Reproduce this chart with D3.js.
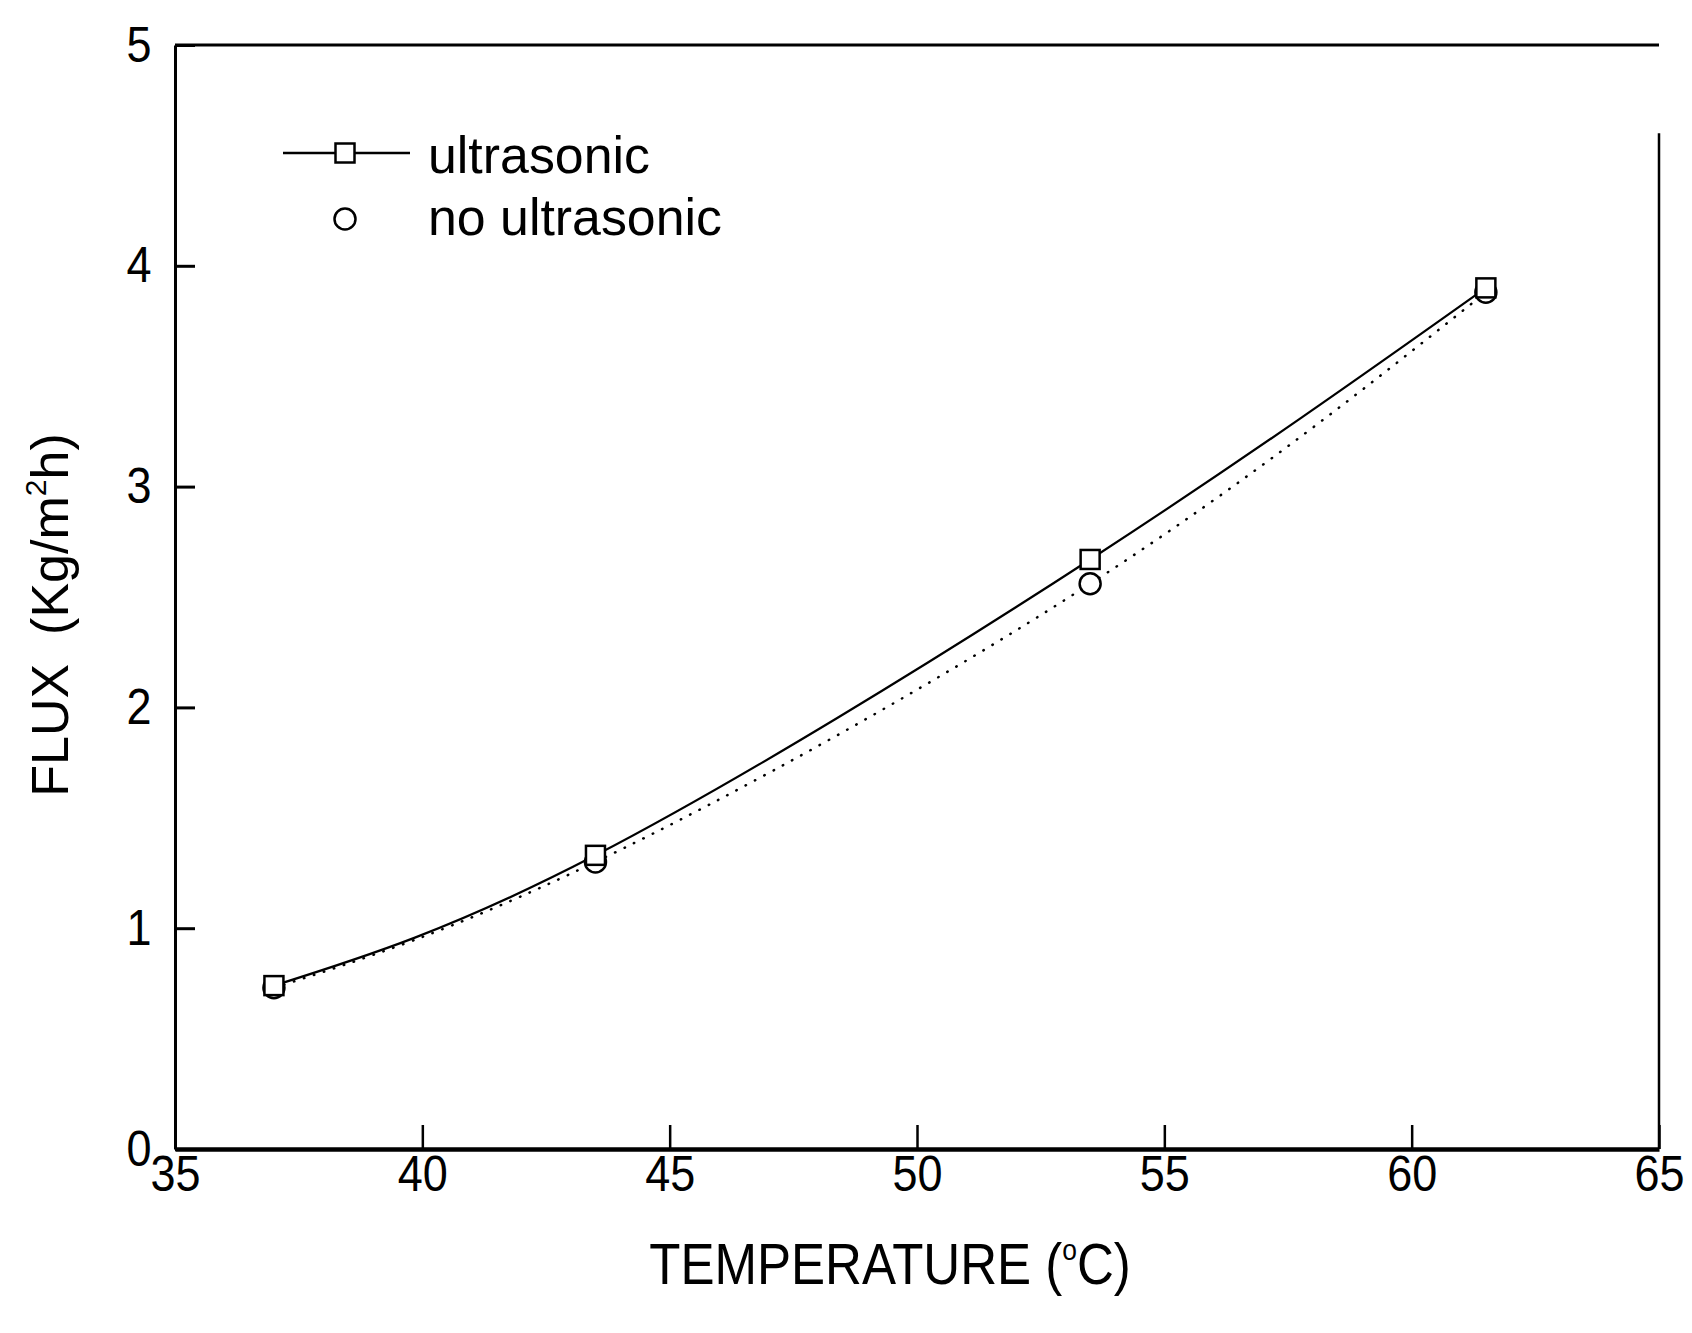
<!DOCTYPE html>
<html>
<head>
<meta charset="utf-8">
<script src="https://cdn.jsdelivr.net/npm/d3@7"></script>
<style>
  body { margin: 0; background: #fff; }
  svg { display: block; font-family: "Liberation Sans", Arial, sans-serif; }
</style>
</head>
<body>
<svg width="1692" height="1333"></svg>
<script>
// values
const temps = [37, 43.5, 53.5, 61.5];
const ultrasonic = [0.74, 1.33, 2.67, 3.90];
const noUltrasonic = [0.73, 1.30, 2.56, 3.88];
const xTicks = [35, 40, 45, 50, 55, 60, 65];
const yTicks = [0, 1, 2, 3, 4, 5];

const svg = d3.select('svg');

// plot box
const plotL = 175, plotR = 1659, plotT = 45, plotB = 1149;

const x = d3.scaleLinear().domain([35, 65]).range([plotL, plotR]);
const y = d3.scaleLinear().domain([0, 5]).range([plotB, plotT]);

// x axis, ticks pointing in
const xAxis = svg.append('g')
    .attr('transform', `translate(0,${plotB})`)
    .call(d3.axisBottom(x).tickValues(xTicks).tickFormat(d3.format('d'))
        .tickSizeInner(-24).tickSizeOuter(0).tickPadding(6));
xAxis.select('.domain').attr('stroke-width', 4.5);
xAxis.selectAll('.tick line').attr('stroke-width', 2.5);
xAxis.selectAll('text').attr('font-size', 50).attr('fill', '#000')
    .attr('font-family', '"Liberation Sans", Arial, sans-serif')
    .attr('transform', 'scale(0.9,1)');

// y axis
const yAxis = svg.append('g')
    .attr('transform', `translate(${plotL},0)`)
    .call(d3.axisLeft(y).tickValues(yTicks).tickFormat(d3.format('d'))
        .tickSizeInner(-20).tickSizeOuter(0).tickPadding(26));
yAxis.select('.domain').attr('stroke-width', 3);
yAxis.selectAll('.tick line').attr('stroke-width', 3);
yAxis.selectAll('text').attr('font-size', 50).attr('fill', '#000')
    .attr('font-family', '"Liberation Sans", Arial, sans-serif')
    .attr('transform', 'scale(0.9,1)');

// top and right border (the right one is broken near the top in the scan)
svg.append('line')
    .attr('x1', x(35)).attr('x2', x(65)).attr('y1', y(5)).attr('y2', y(5))
    .attr('stroke', '#000').attr('stroke-width', 3);
svg.append('line')
    .attr('x1', x(65)).attr('x2', x(65)).attr('y1', y(4.6)).attr('y2', y(0))
    .attr('stroke', '#000').attr('stroke-width', 2.5);

// lines
const lineU = d3.line().x((d, i) => x(temps[i])).y(d => y(d)).curve(d3.curveNatural);

svg.append('path')
    .attr('d', lineU(noUltrasonic))
    .attr('fill', 'none')
    .attr('stroke', '#000')
    .attr('stroke-width', 2.5)
    .attr('stroke-linecap', 'round')
    .attr('stroke-dasharray', '0.5,10');

svg.append('path')
    .attr('d', lineU(ultrasonic))
    .attr('fill', 'none')
    .attr('stroke', '#000')
    .attr('stroke-width', 2.2);

// markers: circles under squares
svg.selectAll('circle.nous')
    .data(noUltrasonic)
    .join('circle')
    .attr('class', 'nous')
    .attr('cx', (d, i) => x(temps[i]))
    .attr('cy', d => y(d))
    .attr('r', 10.5)
    .attr('fill', '#fff')
    .attr('stroke', '#000')
    .attr('stroke-width', 2.5);

const sq = 19;
svg.selectAll('rect.us')
    .data(ultrasonic)
    .join('rect')
    .attr('class', 'us')
    .attr('x', (d, i) => x(temps[i]) - sq / 2)
    .attr('y', d => y(d) - sq / 2)
    .attr('width', sq)
    .attr('height', sq)
    .attr('fill', '#fff')
    .attr('stroke', '#000')
    .attr('stroke-width', 2.5);

// legend
const lg = svg.append('g');
lg.append('line')
    .attr('x1', 283).attr('x2', 410).attr('y1', 153).attr('y2', 153)
    .attr('stroke', '#000').attr('stroke-width', 2.5);
lg.append('rect')
    .attr('x', 345 - sq / 2).attr('y', 153 - sq / 2).attr('width', sq).attr('height', sq)
    .attr('fill', '#fff').attr('stroke', '#000').attr('stroke-width', 2.5);
lg.append('circle')
    .attr('cx', 345).attr('cy', 219).attr('r', 10.5)
    .attr('fill', '#fff').attr('stroke', '#000').attr('stroke-width', 2.5);
lg.append('text')
    .attr('x', 428).attr('y', 173)
    .attr('font-size', 52)
    .attr('textLength', 222).attr('lengthAdjust', 'spacingAndGlyphs')
    .text('ultrasonic');
lg.append('text')
    .attr('x', 428).attr('y', 235)
    .attr('font-size', 52)
    .attr('textLength', 294).attr('lengthAdjust', 'spacingAndGlyphs')
    .text('no ultrasonic');

// x title, squeezed like the original lettering
const xt = svg.append('text')
    .attr('transform', 'translate(890,1284) scale(0.88,1)')
    .attr('text-anchor', 'middle')
    .attr('font-size', 58);
xt.append('tspan').text('TEMPERATURE (');
xt.append('tspan').attr('font-size', 30).attr('dy', -24).text('o');
xt.append('tspan').attr('dy', 24).text('C)');

// y title
const yt = svg.append('text')
    .attr('transform', 'translate(68,615) rotate(-90)')
    .attr('text-anchor', 'middle')
    .attr('font-size', 52)
    .style('white-space', 'pre');
yt.append('tspan').text('FLUX  (Kg/m');
yt.append('tspan').attr('font-size', 30).attr('dy', -22).text('2');
yt.append('tspan').attr('dy', 22).text('h)');
</script>
</body>
</html>
